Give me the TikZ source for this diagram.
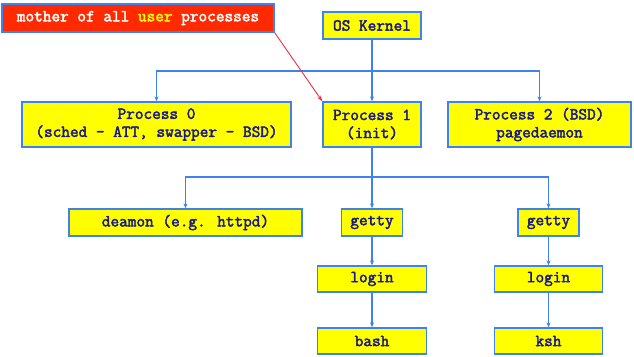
\documentclass[tikz,border=0pt]{standalone}
\usepackage{fontspec}
\newfontfamily\courb{Latin Modern Mono}[FakeBold=2.5]
\usetikzlibrary{arrows.meta}
\definecolor{boxyellow}{HTML}{FFFF00}
\definecolor{boxblue}{HTML}{3C82F0}
\definecolor{txtnavy}{HTML}{1A1A80}
\definecolor{redfill}{HTML}{FF2A00}
\definecolor{redline}{HTML}{F03040}
\begin{document}
\begin{tikzpicture}[x=1pt,y=-1pt,
  procbox/.style={draw=boxblue,line width=1.3pt,fill=boxyellow,text=txtnavy,
    font=\fontsize{16.8}{18}\selectfont\courb,align=center,inner sep=0pt,anchor=center},
  conn/.style={draw=boxblue,line width=1.3pt,-{Stealth[length=5pt,width=4pt]}},
  redconn/.style={draw=redline,line width=0.9pt,-{Stealth[length=6pt,width=4pt]}}]
\useasboundingbox (0,0) rectangle (634,356);
\node[procbox,minimum width=98,minimum height=27] (k) at (372,25.5) {OS Kernel};
\node[procbox,minimum width=269,minimum height=45] (p0) at (156.5,124.5) {Process 0\\(sched - ATT, swapper - BSD)};
\node[procbox,minimum width=98,minimum height=45] (p1) at (372,124.5) {Process 1\\(init)};
\node[procbox,minimum width=183,minimum height=45] (p2) at (539.5,124.5) {Process 2 (BSD)\\pagedaemon};
\node[procbox,fill=redfill,text=white,minimum width=272,minimum height=28] (red) at (138,18) {mother of all \textcolor{boxyellow}{user} processes};
\node[procbox,minimum width=233,minimum height=27] (d) at (185.5,222.5) {deamon (e.g. httpd)};
\node[procbox,minimum width=61,minimum height=27] (g1) at (372,222.5) {getty};
\node[procbox,minimum width=61,minimum height=27] (g2) at (548.5,222.5) {getty};
\node[procbox,minimum width=109,minimum height=26] (l1) at (372,279) {login};
\node[procbox,minimum width=108,minimum height=26] (l2) at (548.5,279) {login};
\node[procbox,minimum width=109,minimum height=26] (b) at (372,341) {bash};
\node[procbox,minimum width=108,minimum height=26] (ks) at (548.5,341) {ksh};
\coordinate (j1) at (372,71);
\coordinate (j2) at (372,177);
\draw[conn] (k) -- (p1);
\draw[conn] (j1) -| (p0);
\draw[conn] (j1) -| (p2);
\draw[conn] (p1) -- (g1);
\draw[conn] (j2) -| (d);
\draw[conn] (j2) -| (g2);
\draw[conn] (g1) -- (l1);
\draw[conn] (l1) -- (b);
\draw[conn] (g2) -- (l2);
\draw[conn] (l2) -- (ks);
\draw[redconn] (red.south east) -- (p1.north west);
\end{tikzpicture}
\end{document}
